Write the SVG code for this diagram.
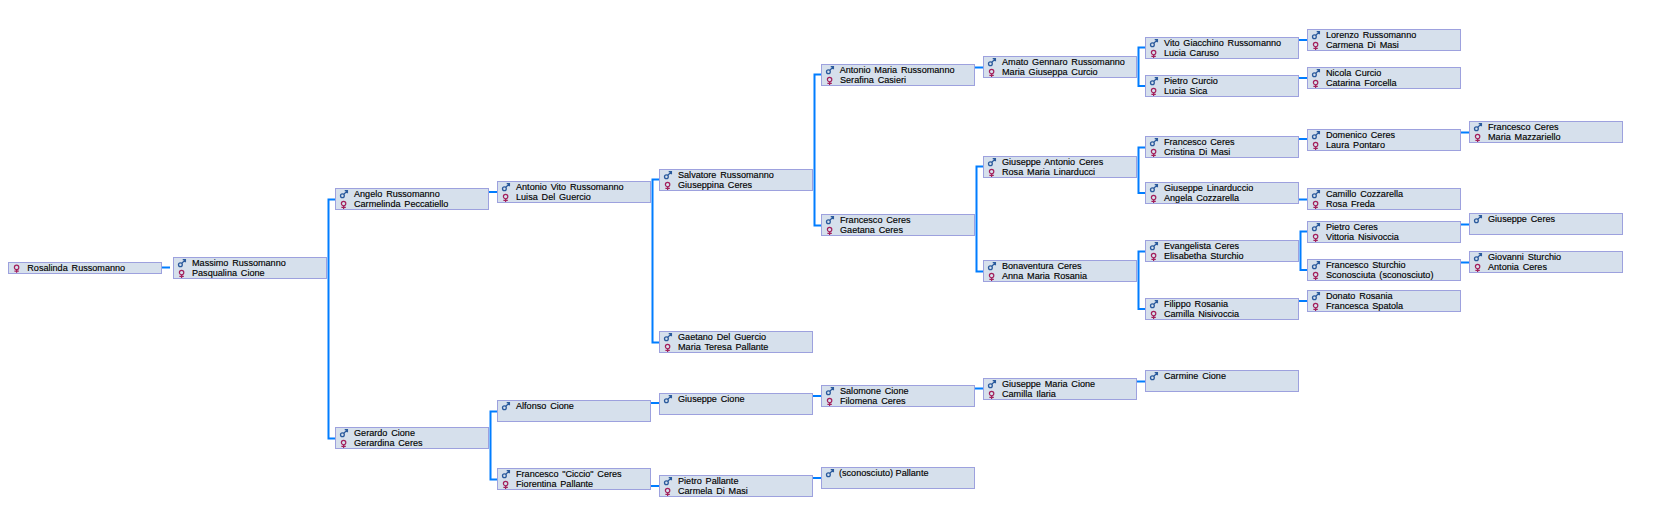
<svg xmlns="http://www.w3.org/2000/svg" xmlns:xlink="http://www.w3.org/1999/xlink" width="1656" height="508" viewBox="0 0 1656 508">
<style>
.b{fill:#d6e0ec;stroke:#9da1de;stroke-width:1}
text{font-family:"Liberation Sans",Arial,sans-serif;font-size:9.1px;word-spacing:1.3px;fill:#000;stroke:#000;stroke-width:0.15px}
#connectors path{fill:none;stroke:#007dff;stroke-width:2}
.m{fill:none;stroke:#2a5a9c;stroke-width:1.3}
.f{fill:none;stroke:#a3205c;stroke-width:1.2}
</style>
<defs>
<g id="male" class="m"><circle cx="7.4" cy="7.8" r="1.9"/><path d="M8.8 6.3L12 3.1M9.7 2.6H12.4V5.3"/></g>
<g id="female" class="f"><circle cx="8.6" cy="15.6" r="2.2"/><path d="M8.6 17.8V21M6.4 19.3H10.8"/></g>
<g id="femaleS" class="f"><circle cx="8.6" cy="5.4" r="2.2"/><path d="M8.6 7.6V10.8M6.4 9.1H10.8"/></g>
<rect id="box" class="b" x="0.5" y="0.5" width="153" height="21"/>
</defs>
<g id="connectors">
<path d="M162 267.5H170"/>
<path d="M335 199.5H328.5V438.5H335"/>
<path d="M489 192H497"/>
<path d="M497 411.5H490.5V479.5H497"/>
<path d="M659 179.5H652.5V342.5H659"/>
<path d="M651 403H659"/>
<path d="M651 486H659"/>
<path d="M821 74.5H814.5V225.5H821"/>
<path d="M813 396H821"/>
<path d="M813 478H821"/>
<path d="M975 67.5H983"/>
<path d="M983 166.5H976.5V271.5H983"/>
<path d="M975 388.5H983"/>
<path d="M1145 47.5H1138.5V86H1145"/>
<path d="M1145 147.5H1138.5V193H1145"/>
<path d="M1145 251.5H1138.5V309H1145"/>
<path d="M1137 381.5H1145"/>
<path d="M1299 40H1307"/>
<path d="M1299 78H1307"/>
<path d="M1299 139H1307"/>
<path d="M1299 199.5H1307"/>
<path d="M1307 231.5H1300.5V270H1307"/>
<path d="M1299 301H1307"/>
<path d="M1461 132.5H1469"/>
<path d="M1461 224.5H1469"/>
<path d="M1461 262.5H1469"/>
</g>
<g id="n01" transform="translate(8 262)"><rect class="b" x="0.5" y="0.5" width="153" height="11"/><use href="#femaleS"/><text x="19.3" y="9">Rosalinda Russomanno</text></g>
<g id="n02" transform="translate(173 257)"><use href="#box"/><use href="#male"/><use href="#female"/><text x="19" y="9">Massimo Russomanno</text><text x="19" y="19">Pasqualina Cione</text></g>
<g id="n03" transform="translate(335 188)"><use href="#box"/><use href="#male"/><use href="#female"/><text x="19" y="9">Angelo Russomanno</text><text x="19" y="19">Carmelinda Peccatiello</text></g>
<g id="n04" transform="translate(335 427)"><use href="#box"/><use href="#male"/><use href="#female"/><text x="19" y="9">Gerardo Cione</text><text x="19" y="19">Gerardina Ceres</text></g>
<g id="n05" transform="translate(497 181)"><use href="#box"/><use href="#male"/><use href="#female"/><text x="19" y="9">Antonio Vito Russomanno</text><text x="19" y="19">Luisa Del Guercio</text></g>
<g id="n06" transform="translate(497 400)"><use href="#box"/><use href="#male"/><text x="19" y="9">Alfonso Cione</text></g>
<g id="n07" transform="translate(497 468)"><use href="#box"/><use href="#male"/><use href="#female"/><text x="19" y="9">Francesco "Ciccio" Ceres</text><text x="19" y="19">Fiorentina Pallante</text></g>
<g id="n08" transform="translate(659 169)"><use href="#box"/><use href="#male"/><use href="#female"/><text x="19" y="9">Salvatore Russomanno</text><text x="19" y="19">Giuseppina Ceres</text></g>
<g id="n09" transform="translate(659 331)"><use href="#box"/><use href="#male"/><use href="#female"/><text x="19" y="9">Gaetano Del Guercio</text><text x="19" y="19">Maria Teresa Pallante</text></g>
<g id="n10" transform="translate(659 393)"><use href="#box"/><use href="#male"/><text x="19" y="9">Giuseppe Cione</text></g>
<g id="n11" transform="translate(659 475)"><use href="#box"/><use href="#male"/><use href="#female"/><text x="19" y="9">Pietro Pallante</text><text x="19" y="19">Carmela Di Masi</text></g>
<g id="n12" transform="translate(821 64)"><use href="#box"/><use href="#male"/><use href="#female"/><text x="18.7" y="9">Antonio Maria Russomanno</text><text x="19" y="19">Serafina Casieri</text></g>
<g id="n13" transform="translate(821 214)"><use href="#box"/><use href="#male"/><use href="#female"/><text x="19" y="9">Francesco Ceres</text><text x="19" y="19">Gaetana Ceres</text></g>
<g id="n14" transform="translate(821 385)"><use href="#box"/><use href="#male"/><use href="#female"/><text x="19" y="9">Salomone Cione</text><text x="19" y="19">Filomena Ceres</text></g>
<g id="n15" transform="translate(821 467)"><use href="#box"/><use href="#male"/><text x="18" y="9" style="word-spacing:0">(sconosciuto) Pallante</text></g>
<g id="n16" transform="translate(983 56)"><use href="#box"/><use href="#male"/><use href="#female"/><text x="19" y="9">Amato Gennaro Russomanno</text><text x="19" y="19">Maria Giuseppa Curcio</text></g>
<g id="n17" transform="translate(983 156)"><use href="#box"/><use href="#male"/><use href="#female"/><text x="19" y="9">Giuseppe Antonio Ceres</text><text x="19" y="19">Rosa Maria Linarducci</text></g>
<g id="n18" transform="translate(983 260)"><use href="#box"/><use href="#male"/><use href="#female"/><text x="19" y="9">Bonaventura Ceres</text><text x="19" y="19">Anna Maria Rosania</text></g>
<g id="n19" transform="translate(983 378)"><use href="#box"/><use href="#male"/><use href="#female"/><text x="19" y="9">Giuseppe Maria Cione</text><text x="19" y="19">Camilla Ilaria</text></g>
<g id="n20" transform="translate(1145 37)"><use href="#box"/><use href="#male"/><use href="#female"/><text x="19" y="9">Vito Giacchino Russomanno</text><text x="19" y="19">Lucia Caruso</text></g>
<g id="n21" transform="translate(1145 75)"><use href="#box"/><use href="#male"/><use href="#female"/><text x="19" y="9">Pietro Curcio</text><text x="19" y="19">Lucia Sica</text></g>
<g id="n22" transform="translate(1145 136)"><use href="#box"/><use href="#male"/><use href="#female"/><text x="19" y="9">Francesco Ceres</text><text x="19" y="19">Cristina Di Masi</text></g>
<g id="n23" transform="translate(1145 182)"><use href="#box"/><use href="#male"/><use href="#female"/><text x="19" y="9">Giuseppe Linarduccio</text><text x="19" y="19">Angela Cozzarella</text></g>
<g id="n24" transform="translate(1145 240)"><use href="#box"/><use href="#male"/><use href="#female"/><text x="19" y="9">Evangelista Ceres</text><text x="19" y="19">Elisabetha Sturchio</text></g>
<g id="n25" transform="translate(1145 298)"><use href="#box"/><use href="#male"/><use href="#female"/><text x="19" y="9">Filippo Rosania</text><text x="19" y="19">Camilla Nisivoccia</text></g>
<g id="n26" transform="translate(1145 370)"><use href="#box"/><use href="#male"/><text x="19" y="9">Carmine Cione</text></g>
<g id="n27" transform="translate(1307 29)"><use href="#box"/><use href="#male"/><use href="#female"/><text x="19" y="9">Lorenzo Russomanno</text><text x="19" y="19">Carmena Di Masi</text></g>
<g id="n28" transform="translate(1307 67)"><use href="#box"/><use href="#male"/><use href="#female"/><text x="19" y="9">Nicola Curcio</text><text x="19" y="19">Catarina Forcella</text></g>
<g id="n29" transform="translate(1307 129)"><use href="#box"/><use href="#male"/><use href="#female"/><text x="19" y="9">Domenico Ceres</text><text x="19" y="19">Laura Pontaro</text></g>
<g id="n30" transform="translate(1307 188)"><use href="#box"/><use href="#male"/><use href="#female"/><text x="19" y="9">Camillo Cozzarella</text><text x="19" y="19">Rosa Freda</text></g>
<g id="n31" transform="translate(1307 221)"><use href="#box"/><use href="#male"/><use href="#female"/><text x="19" y="9">Pietro Ceres</text><text x="19" y="19">Vittoria Nisivoccia</text></g>
<g id="n32" transform="translate(1307 259)"><use href="#box"/><use href="#male"/><use href="#female"/><text x="19" y="9">Francesco Sturchio</text><text x="19" y="19">Sconosciuta (sconosciuto)</text></g>
<g id="n33" transform="translate(1307 290)"><use href="#box"/><use href="#male"/><use href="#female"/><text x="19" y="9">Donato Rosania</text><text x="19" y="19">Francesca Spatola</text></g>
<g id="n34" transform="translate(1469 121)"><use href="#box"/><use href="#male"/><use href="#female"/><text x="19" y="9">Francesco Ceres</text><text x="19" y="19">Maria Mazzariello</text></g>
<g id="n35" transform="translate(1469 213)"><use href="#box"/><use href="#male"/><text x="19" y="9">Giuseppe Ceres</text></g>
<g id="n36" transform="translate(1469 251)"><use href="#box"/><use href="#male"/><use href="#female"/><text x="19" y="9">Giovanni Sturchio</text><text x="19" y="19">Antonia Ceres</text></g>
</svg>
